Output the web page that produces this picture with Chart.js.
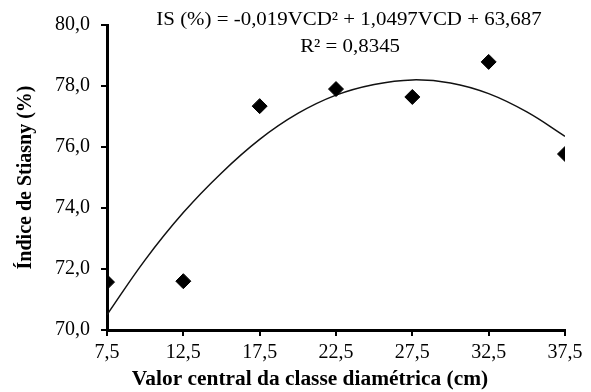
<!DOCTYPE html>
<html>
<head>
<meta charset="utf-8">
<script src="https://cdn.jsdelivr.net/npm/chart.js@4"></script>
<style>
  html, body { margin: 0; padding: 0; background: #fff; }
  #wrap { width: 591px; height: 392px; }
</style>
</head>
<body>
<div id="wrap"><canvas id="chart" width="591" height="392"></canvas></div>
<script>
// observed points (diameter class centre, Stiasny index)
const classCentres = [7.5, 12.5, 17.5, 22.5, 27.5, 32.5, 37.5];
const stiasnyValues = [71.57, 71.6, 77.34, 77.9, 77.64, 78.79, 75.77];

// fitted curve
const curveX = [7.5, 10, 12.5, 15, 17.5, 20, 22.5, 25, 27.5, 30, 32.5, 35, 37.5];
const curveY = [70.5, 72.3, 73.85, 75.15, 76.25, 77.1, 77.7, 78.05, 78.2, 78.1, 77.75, 77.15, 76.35];

const xTicks = [7.5, 12.5, 17.5, 22.5, 27.5, 32.5, 37.5];
const equationText = "IS (%) = -0,019VCD² + 1,0497VCD + 63,687";
const r2Text = "R² = 0,8345";
const xTitle = "Valor central da classe diamétrica (cm)";
const yTitle = "Índice de Stiasny (%)";

const serif = "'Liberation Serif', 'Times New Roman', serif";
const fmt = v => Number(v).toFixed(1).replace('.', ',');

// equation + x title drawn by hand: in the original they sit off-centre
// and are a little wider than tall, so stretch them sideways
const textPlugin = {
  id: 'texts',
  afterDraw(chart) {
    const ctx = chart.ctx;
    ctx.save();
    ctx.fillStyle = '#000';
    ctx.textAlign = 'center';
    ctx.textBaseline = 'middle';

    ctx.save();
    ctx.font = "19px " + serif;
    ctx.translate(349, 0);
    ctx.scale(1.1, 1);
    ctx.fillText(equationText, 0, 20);
    ctx.fillText(r2Text, 1, 47);
    ctx.restore();

    ctx.save();
    ctx.font = "bold 20px " + serif;
    ctx.translate(310, 0);
    ctx.scale(1.07, 1);
    ctx.fillText(xTitle, 0, 380);
    ctx.restore();

    ctx.restore();
  }
};

const ctx = document.getElementById('chart').getContext('2d');
new Chart(ctx, {
  type: 'scatter',
  data: {
    datasets: [
      {
        label: 'Índice de Stiasny',
        data: classCentres.map((x, i) => ({ x: x, y: stiasnyValues[i] })),
        pointStyle: 'rectRot',
        pointRadius: 7.5,
        backgroundColor: '#000',
        borderColor: '#000',
        borderWidth: 1,
        order: 0
      },
      {
        label: 'Ajuste',
        data: curveX.map((x, i) => ({ x: x, y: curveY[i] })),
        showLine: true,
        pointRadius: 0,
        borderColor: '#111',
        borderWidth: 1.5,
        tension: 0.4,
        fill: false,
        order: 1
      }
    ]
  },
  options: {
    responsive: false,
    animation: false,
    layout: { padding: { left: 0, right: 26, top: 25, bottom: 0 } },
    plugins: {
      legend: { display: false },
      tooltip: { enabled: false }
    },
    scales: {
      x: {
        type: 'linear',
        min: 7.5,
        max: 37.5,
        afterBuildTicks: scale => { scale.ticks = xTicks.map(v => ({ value: v })); },
        afterFit: scale => { scale.height = 62; },
        border: { display: true, color: '#000', width: 3 },
        grid: { drawOnChartArea: false, drawTicks: true, tickLength: 6, color: '#000', lineWidth: 2 },
        ticks: {
          color: '#000',
          padding: 5,
          maxRotation: 0,
          font: { family: serif, size: 20 },
          callback: v => fmt(v)
        },
        title: { display: false }
      },
      y: {
        min: 70,
        max: 80,
        afterFit: scale => { scale.width = 107; },
        border: { display: true, color: '#000', width: 3 },
        grid: { drawOnChartArea: false, drawTicks: true, tickLength: 6, color: '#000', lineWidth: 2 },
        ticks: {
          stepSize: 2,
          color: '#000',
          padding: 11,
          font: { family: serif, size: 20 },
          callback: v => fmt(v)
        },
        title: {
          display: true,
          text: yTitle,
          color: '#000',
          font: { family: serif, size: 20, weight: 'bold' },
          padding: { top: 14, bottom: 0 }
        }
      }
    }
  },
  plugins: [textPlugin]
});
</script>
</body>
</html>
